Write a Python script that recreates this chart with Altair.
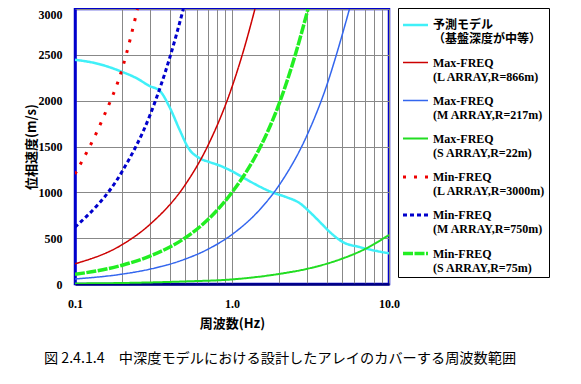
import altair as alt
import pandas as pd

# ---- data ----
pred_f = [0.10, 0.142, 0.199, 0.25, 0.296, 0.348, 0.40, 0.466, 0.525, 0.625, 0.72, 0.84, 1.0, 1.175, 1.4, 1.8, 2.2, 2.71, 3.14, 3.64, 4.21, 5.09, 6.54, 8.39, 10.0]
pred_v = [2446, 2400, 2315, 2240, 2163, 2105, 1930, 1674, 1489, 1370, 1330, 1290, 1230, 1163, 1090, 1000, 950, 880, 783, 674, 565, 457, 402, 359, 335]

maxL_f = [0.1, 0.2, 0.3, 0.5, 0.7, 1.0, 1.2, 1.4]
maxL_v = [220, 430, 650, 1075, 1505, 2150, 2580, 3000]

maxM_f = [0.1, 0.2, 0.3, 0.5, 0.7, 1.0, 1.5, 2.0, 3.0, 4.0, 5.0, 5.6]
maxM_v = [55, 108, 162, 270, 378, 540, 810, 1080, 1620, 2160, 2700, 3000]

maxS_f = [0.1, 0.2, 0.5, 1.0, 2.0, 3.0, 5.0, 7.0, 10.0]
maxS_v = [6, 11, 28, 50, 110, 165, 275, 380, 535]

minL_f = [0.1, 0.15, 0.2, 0.25]
minL_v = [1200, 1800, 2350, 3000]

minM_f = [0.1, 0.2, 0.3, 0.4, 0.49]
minM_v = [620, 1230, 1840, 2460, 3000]

minS_f = [0.1, 0.2, 0.3, 0.5, 0.7, 1.0, 1.5, 2.0, 2.5, 3.05]
minS_v = [105, 205, 305, 500, 700, 1000, 1480, 1970, 2470, 3000]

series_names = [
    "予測モデル|（基盤深度が中等）",
    "Max-FREQ|(L ARRAY,R=866m)",
    "Max-FREQ|(M ARRAY,R=217m)",
    "Max-FREQ|(S ARRAY,R=22m)",
    "Min-FREQ|(L ARRAY,R=3000m)",
    "Min-FREQ|(M ARRAY,R=750m)",
    "Min-FREQ|(S ARRAY,R=75m)",
]
series_data = [
    (pred_f, pred_v), (maxL_f, maxL_v), (maxM_f, maxM_v), (maxS_f, maxS_v),
    (minL_f, minL_v), (minM_f, minM_v), (minS_f, minS_v),
]
x_grid = [0.1, 0.2, 0.3, 0.4, 0.5, 0.6, 0.7, 0.8, 0.9, 1, 2, 3, 4, 5, 6, 7, 8, 9, 10]
y_ticks = [0, 500, 1000, 1500, 2000, 2500, 3000]
caption = "図 2.4.1.4　中深度モデルにおける設計したアレイのカバーする周波数範囲"

# ---- styles ----
colors = ["#40f0f8", "#cc0000", "#3366ee", "#22dd22", "#ee0000", "#0000cc", "#22ee22"]
dashes = [[1, 0], [1, 0], [1, 0], [1, 0], [3, 8], [4, 3], [10, 1.5]]
widths = [2.5, 1.5, 1.5, 2, 3, 3, 3.5]

rows = []
for name, (fs, vs) in zip(series_names, series_data):
    for f, v in zip(fs, vs):
        rows.append({"series": name, "f": f, "v": v})
df = pd.DataFrame(rows)

leg = alt.Legend(
    title=None,
    labelExpr="split(datum.label, '|')",
    orient="none", legendX=323, legendY=-1, direction="vertical",
)

serif = "Times New Roman, Liberation Serif, DejaVu Serif, serif"

chart = alt.Chart(df).mark_line(clip=True, interpolate="monotone").encode(
    x=alt.X("f:Q",
            scale=alt.Scale(type="log", domain=[0.1, 10], nice=False),
            axis=alt.Axis(values=x_grid, title="周波数(Hz)", labelFlush=False,
                          labelExpr="(datum.value == 0.1 || datum.value == 1 || datum.value == 10) ? format(datum.value, '.1f') : ''",
                          domainColor="#000080", domainWidth=2.5,
                          labelPadding=14, titlePadding=8)),
    y=alt.Y("v:Q",
            scale=alt.Scale(domain=[0, 3000], nice=False),
            axis=alt.Axis(values=y_ticks, title="位相速度(m/s)", format="d",
                          labelBaseline={"condition": {"test": "datum.value == 3000", "value": "top"}, "value": "middle"},
                          domainColor="#0000cc", domainWidth=2.5,
                          labelPadding=13, titlePadding=0)),
    color=alt.Color("series:N", scale=alt.Scale(type="ordinal", domain=series_names, range=colors), legend=leg),
    strokeDash=alt.StrokeDash("series:N", scale=alt.Scale(type="ordinal", domain=series_names, range=dashes), legend=leg),
    strokeWidth=alt.StrokeWidth("series:N", scale=alt.Scale(type="ordinal", domain=series_names, range=widths), legend=leg),
).properties(
    width=314, height=275,
    title=alt.Title(caption, orient="bottom", font="Noto Sans CJK JP", fontSize=14.2,
                    fontWeight="normal", color="black", offset=22, anchor="middle", dx=48),
    autosize=alt.AutoSizeParams(type="none"),
    padding={"left": 67, "top": 1, "right": 180, "bottom": 92},
).configure_view(
    stroke="#0000cc", strokeWidth=2.5
).configure_axis(
    grid=True, gridColor="#888888", gridWidth=1, gridOpacity=1,
    ticks=False,
    labelFont=serif, labelFontSize=12, labelFontWeight="bold", labelColor="black",
    titleFont="Noto Sans CJK JP", titleFontSize=13, titleFontWeight="bold", titleColor="black",
).configure_legend(
    strokeColor="black", strokeWidth=1, fillColor="white",
    padding=3, symbolType="stroke", symbolSize=625, rowPadding=4,
    labelFont=serif + ", Noto Sans CJK JP", labelFontSize=12, labelFontWeight="bold",
    labelColor="black", labelLimit=220, labelOffset=3,
)

chart.save("out.html", embed_options={"renderer": "svg", "actions": False})
